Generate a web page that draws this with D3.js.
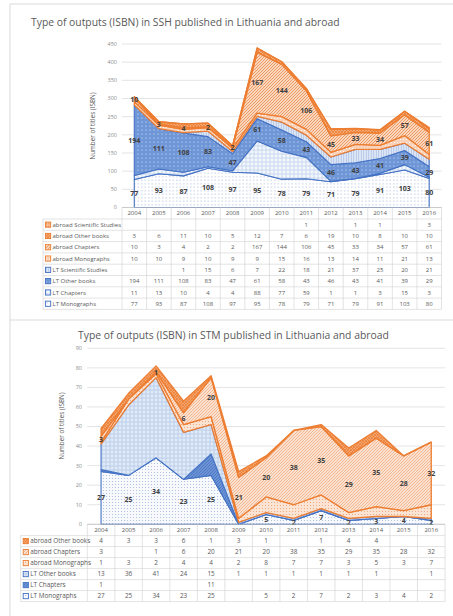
<!doctype html>
<html>
<head>
<meta charset="utf-8">
<title>Type of outputs (ISBN)</title>
<script src="https://cdnjs.cloudflare.com/ajax/libs/d3/7.8.5/d3.min.js"></script>
<style>
  body { margin: 0; background: #fff; }
  svg { display: block; font-family: "Open Sans", "Noto Sans", sans-serif; }
</style>
</head>
<body>
<svg id="chart" width="453" height="616"></svg>
<script>
var years = [2004, 2005, 2006, 2007, 2008, 2009, 2010, 2011, 2012, 2013, 2014, 2015, 2016];

// SSH (top chart), bottom of stack first
var sshLtMono     = [77, 93, 87, 108, 97, 95, 78, 79, 71, 79, 91, 103, 80];
var sshLtChap     = [11, 13, 10, 4, 4, 88, 77, 59, 1, 1, 3, 15, 3];
var sshLtOther    = [194, 111, 108, 83, 47, 61, 58, 43, 46, 43, 41, 39, 29];
var sshLtSci      = [null, null, 1, 15, 6, 7, 22, 18, 21, 37, 25, 20, 21];
var sshAbMono     = [10, 10, 9, 10, 9, 9, 15, 16, 13, 14, 11, 21, 13];
var sshAbChap     = [10, 3, 4, 2, 2, 167, 144, 106, 45, 33, 34, 57, 61];
var sshAbOther    = [3, 6, 11, 10, 5, 12, 7, 6, 19, 10, 8, 10, 10];
var sshAbSci      = [null, null, null, null, null, null, null, 1, null, 1, 1, null, 3];
var sshTicks = [0, 50, 100, 150, 200, 250, 300, 350, 400, 450];

// STM (bottom chart)
var stmLtMono  = [27, 25, 34, 23, 25, null, 5, 2, 7, 2, 3, 4, 2];
var stmLtChap  = [1, null, null, null, 11, null, null, null, null, null, null, null, null];
var stmLtOther = [13, 36, 41, 24, 15, 1, 1, 1, 1, 1, 1, null, 1];
var stmAbMono  = [1, 3, 2, 4, 4, 2, 8, 7, 7, 3, 5, 3, 7];
var stmAbChap  = [3, null, 1, 6, 20, 21, 20, 38, 35, 29, 35, 28, 32];
var stmAbOther = [4, 3, 3, 6, 1, 3, 1, null, 1, 4, 4, null, null];
var stmTicks = [0, 10, 20, 30, 40, 50, 60, 70, 80, 90];

var BLUE = "#4472c4", ORANGE = "#ed7d31";

var svg = d3.select("#chart");
var defs = svg.append("defs");

function pattern(id, kind, bg, fg, size) {
  var p = defs.append("pattern").attr("id", id).attr("patternUnits", "userSpaceOnUse")
    .attr("width", size).attr("height", size);
  p.append("rect").attr("width", size).attr("height", size).attr("fill", bg);
  if (kind == "dots") {
    p.append("circle").attr("cx", size / 2).attr("cy", size / 2).attr("r", 0.55).attr("fill", fg);
  } else if (kind == "grid") {
    p.append("path").attr("d", "M0," + size / 2 + "H" + size + "M" + size / 2 + ",0V" + size)
      .attr("stroke", fg).attr("stroke-width", 1);
  } else if (kind == "vstripe") {
    p.append("path").attr("d", "M" + size / 2 + ",0V" + size).attr("stroke", fg).attr("stroke-width", 1);
  } else if (kind == "diag") {
    p.append("path").attr("d", "M0," + size + "L" + size + ",0M-1,1L1,-1M" + (size - 1) + "," + (size + 1) + "L" + (size + 1) + "," + (size - 1))
      .attr("stroke", fg).attr("stroke-width", 0.8);
  } else if (kind == "cross") {
    p.append("path").attr("d", "M0," + size + "L" + size + ",0M0,0L" + size + "," + size)
      .attr("stroke", fg).attr("stroke-width", 0.7);
  }
  return "url(#" + id + ")";
}

var sshSeries = [
  { name: "LT Monographs", values: sshLtMono, color: BLUE, fill: pattern("p1", "dots", "#ffffff", "#9fb6e0", 3.5), label: true },
  { name: "LT Chapters", values: sshLtChap, color: BLUE, fill: pattern("p2", "grid", "#f4f7fc", "#c9d7ef", 4), label: false },
  { name: "LT Other books", values: sshLtOther, color: BLUE, fill: pattern("p3", "dots", "#6f96d7", "#e8eefa", 4), label: true },
  { name: "LT Scientific Studies", values: sshLtSci, color: BLUE, fill: pattern("p4", "vstripe", "#e4ebf7", "#adc2e7", 2.5), label: false },
  { name: "abroad Monographs", values: sshAbMono, color: ORANGE, fill: pattern("p5", "dots", "#f8d3ba", "#ffffff", 3), label: false },
  { name: "abroad Chapters", values: sshAbChap, color: ORANGE, fill: pattern("p6", "diag", "#f9d6be", "#ee8b4d", 3), label: true },
  { name: "abroad Other books", values: sshAbOther, color: ORANGE, fill: pattern("p7", "cross", "#f4ab7a", "#ec7b2e", 3), label: false },
  { name: "abroad Scientific Studies", values: sshAbSci, color: ORANGE, fill: pattern("p8", "dots", "#f6bd96", "#ed7d31", 2.5), label: false }
];

var stmSeries = [
  { name: "LT Monographs", values: stmLtMono, color: BLUE, fill: pattern("q1", "dots", "#f7f9fd", "#a3b9e1", 3), label: true },
  { name: "LT Chapters", values: stmLtChap, color: BLUE, fill: pattern("q2", "diag", "#6a92d5", "#4a76c2", 3), label: false },
  { name: "LT Other books", values: stmLtOther, color: BLUE, fill: pattern("q3", "grid", "#e1eaf7", "#bccfec", 4), label: false },
  { name: "abroad Monographs", values: stmAbMono, color: ORANGE, fill: pattern("q4", "dots", "#fbe4d4", "#f1a272", 3), label: false },
  { name: "abroad Chapters", values: stmAbChap, color: ORANGE, fill: pattern("q5", "diag", "#fbe2d0", "#f2ac82", 3), label: true },
  { name: "abroad Other books", values: stmAbOther, color: ORANGE, fill: pattern("q6", "cross", "#f3a46f", "#ed7d31", 3), label: false }
];

// frame lines
svg.append("path").attr("d", "M10,616V4H460M10,320H460").attr("fill", "none")
  .attr("stroke", "#d9d9d9").attr("stroke-width", 1);

function drawChart(cfg) {
  var g = svg.append("g");
  var series = cfg.series;

  var title = g.append("text").text(cfg.title).attr("x", cfg.titleX).attr("y", cfg.titleY)
    .attr("fill", "#595959").attr("font-size", 10);
  var w = title.node().getComputedTextLength();
  title.attr("font-size", 10 * cfg.titleW / w);

  var x = d3.scaleBand().domain(years).range([cfg.left, cfg.right]);
  var y = d3.scaleLinear().domain([0, d3.max(cfg.ticks)]).range([cfg.bottom, cfg.top]);
  var cx = function (yr) { return x(yr) + x.bandwidth() / 2; };

  // gridlines + tick labels
  g.selectAll(".grid").data(cfg.ticks).enter().append("line")
    .attr("x1", cfg.left).attr("x2", cfg.right)
    .attr("y1", function (d) { return y(d); }).attr("y2", function (d) { return y(d); })
    .attr("stroke", "#d9d9d9").attr("stroke-width", 0.7);
  g.selectAll(".tick").data(cfg.ticks).enter().append("text")
    .attr("x", cfg.tickX).attr("y", function (d) { return y(d); })
    .attr("dy", "0.35em").attr("text-anchor", "end")
    .attr("font-size", 5.5).attr("fill", "#8c8c8c").text(function (d) { return d; });

  g.append("text").attr("transform", "translate(" + cfg.axisTitleX + "," + cfg.axisTitleY + ") rotate(-90)")
    .attr("text-anchor", "middle").attr("dy", "0.35em").attr("font-size", 6.3)
    .attr("fill", "#595959").text("Number of titles (ISBN)");

  // stacked areas
  var rows = years.map(function (yr, i) {
    var r = { year: yr };
    series.forEach(function (s, k) { r[k] = s.values[i] || 0; });
    return r;
  });
  var stack = d3.stack().keys(series.map(function (s, k) { return k; }));
  var layers = stack(rows);
  var area = d3.area()
    .x(function (d) { return cx(d.data.year); })
    .y0(function (d) { return y(d[0]); })
    .y1(function (d) { return y(d[1]); });

  layers.forEach(function (layer, k) {
    var s = series[k];
    g.append("path").datum(layer).attr("d", area)
      .attr("fill", s.fill).attr("stroke", s.color)
      .attr("stroke-width", s.color == ORANGE ? 1.3 : 1.1)
      .attr("stroke-linejoin", "round");
  });

  // data labels
  layers.forEach(function (layer, k) {
    var s = series[k];
    if (!s.label) return;
    g.selectAll(null).data(layer.filter(function (d, i) { return s.values[i]; })).enter().append("text")
      .attr("x", function (d) { return cx(d.data.year); })
      .attr("y", function (d) { return y((d[0] + d[1]) / 2); })
      .attr("dy", "0.35em").attr("text-anchor", "middle")
      .attr("font-size", 7).attr("font-weight", "bold").attr("fill", "#404040")
      .text(function (d) { return d.data[k]; });
  });

  // data table
  var tableTop = cfg.bottom;
  var headBottom = tableTop + cfg.headH;
  var n = series.length;
  var tableBottom = headBottom + n * cfg.rowH;
  var lineColor = "#d0d0d0";

  g.selectAll(".yr").data(years).enter().append("text")
    .attr("x", cx).attr("y", tableTop + cfg.headH / 2).attr("dy", "0.35em")
    .attr("text-anchor", "middle").attr("font-size", 6).attr("fill", "#595959")
    .text(function (d) { return d; });

  var colEdges = years.map(function (yr) { return x(yr); }).concat([cfg.right]);
  g.selectAll(".vcol").data(colEdges).enter().append("line")
    .attr("x1", function (d) { return d; }).attr("x2", function (d) { return d; })
    .attr("y1", tableTop).attr("y2", tableBottom)
    .attr("stroke", lineColor).attr("stroke-width", 0.6);
  g.append("line").attr("x1", cfg.legendL).attr("x2", cfg.legendL)
    .attr("y1", headBottom).attr("y2", tableBottom).attr("stroke", lineColor).attr("stroke-width", 0.6);
  var hLines = d3.range(n + 1).map(function (i) { return headBottom + i * cfg.rowH; });
  g.selectAll(".hrow").data(hLines).enter().append("line")
    .attr("x1", cfg.legendL).attr("x2", cfg.right)
    .attr("y1", function (d) { return d; }).attr("y2", function (d) { return d; })
    .attr("stroke", lineColor).attr("stroke-width", 0.6);
  g.append("line").attr("x1", cfg.left).attr("x2", cfg.right)
    .attr("y1", tableTop).attr("y2", tableTop).attr("stroke", "#bfbfbf").attr("stroke-width", 0.7);

  // rows listed top series first
  var order = d3.range(n).reverse();
  order.forEach(function (k, r) {
    var s = series[k];
    var rc = headBottom + r * cfg.rowH + cfg.rowH / 2;
    g.append("rect").attr("x", cfg.legendL + 2.5).attr("y", rc - 2.6).attr("width", 5.2).attr("height", 5.2)
      .attr("fill", s.fill).attr("stroke", s.color).attr("stroke-width", 0.9);
    g.append("text").attr("x", cfg.legendL + 9.5).attr("y", rc).attr("dy", "0.35em")
      .attr("font-size", cfg.tableFont).attr("fill", "#595959").text(s.name);
    g.selectAll(null).data(years).enter().append("text")
      .attr("x", cx).attr("y", rc).attr("dy", "0.35em").attr("text-anchor", "middle")
      .attr("font-size", cfg.tableFont).attr("fill", "#595959")
      .text(function (d, i) { return s.values[i] == null ? "" : s.values[i]; });
  });
}

drawChart({
  title: "Type of outputs (ISBN) in SSH published in Lithuania and abroad",
  titleX: 31, titleY: 25.5, titleW: 309,
  series: sshSeries, ticks: sshTicks,
  left: 122, right: 441.5, top: 44, bottom: 207.5,
  tickX: 117, axisTitleX: 93, axisTitleY: 126,
  legendL: 43, headH: 11.5, rowH: 11.3, tableFont: 6
});

drawChart({
  title: "Type of outputs (ISBN) in STM published in Lithuania and abroad",
  titleX: 78, titleY: 338.5, titleW: 311,
  series: stmSeries, ticks: stmTicks,
  left: 87.3, right: 445, top: 348.3, bottom: 524.3,
  tickX: 82, axisTitleX: 62, axisTitleY: 426,
  legendL: 20.7, headH: 11.3, rowH: 11, tableFont: 6.4
});
</script>
</body>
</html>
